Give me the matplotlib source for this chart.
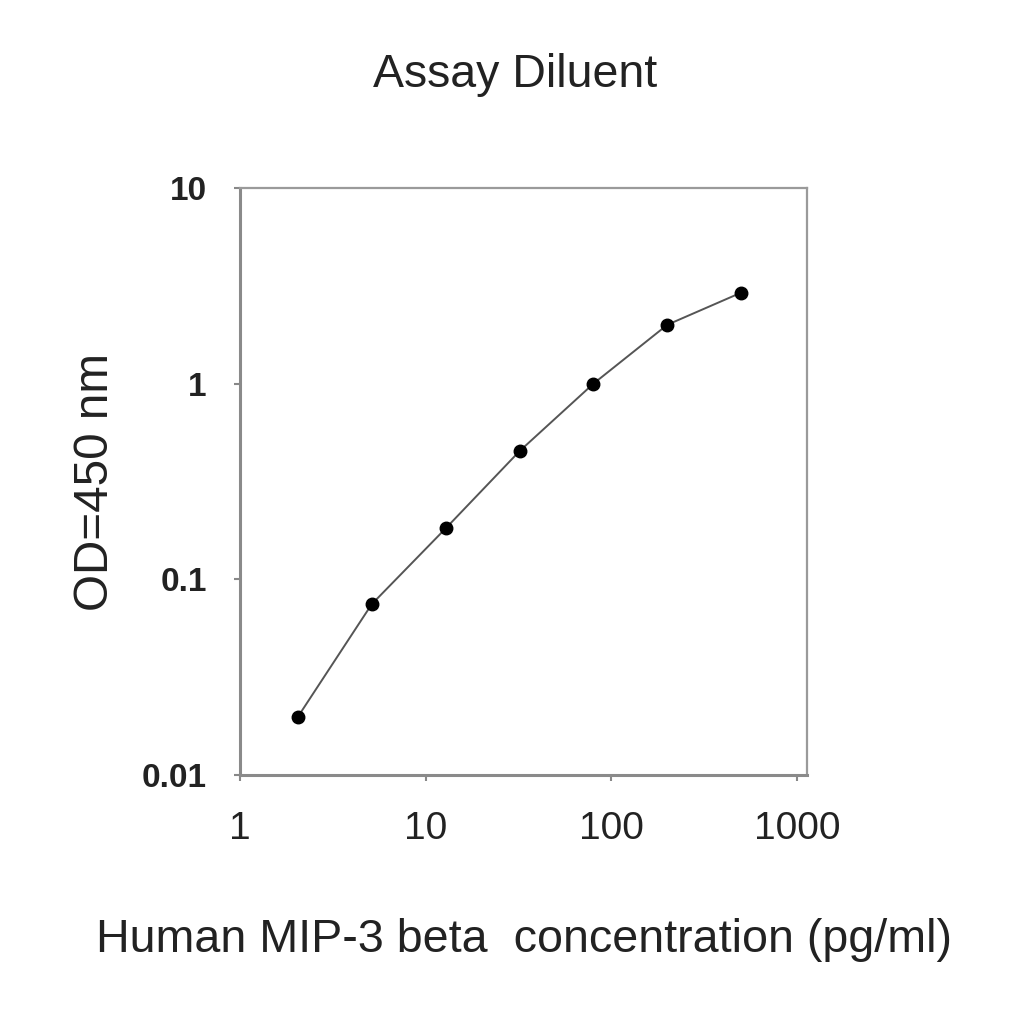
import numpy as np
import matplotlib.pyplot as plt
from matplotlib.ticker import FixedLocator, NullLocator

plt.rcParams['font.family'] = ['Liberation Sans', 'DejaVu Sans']

# standard curve, assay diluent
conc = [2.048, 5.12, 12.8, 32, 80, 200, 500]   # pg/ml
od = [0.0198, 0.0746, 0.182, 0.452, 1.0, 2.0, 2.92]

xticks = [1, 10, 100, 1000]
xtick_labels = ['1', '10', '100', '1000']
yticks = [0.01, 0.1, 1, 10]
ytick_labels = ['0.01', '0.1', '1', '10']

fig = plt.figure(figsize=(10.24, 10.24), dpi=100)
ax = fig.add_axes([240/1024, 1 - 775/1024, (807 - 240)/1024, (775 - 188)/1024])

ax.plot(conc, od, color='#555555', lw=1.4, zorder=2)
ax.plot(conc, od, 'o', color='black', ms=9, zorder=3)

ax.set_xscale('log')
ax.set_yscale('log')
ax.set_xlim(1, 1130)
ax.set_ylim(0.01, 10)

ax.xaxis.set_major_locator(FixedLocator(xticks))
ax.xaxis.set_minor_locator(NullLocator())
ax.yaxis.set_major_locator(FixedLocator(yticks))
ax.yaxis.set_minor_locator(NullLocator())
ax.set_xticklabels(xtick_labels, fontsize=28, color='#222222')
ax.set_yticklabels(ytick_labels, fontsize=24, fontweight='bold', color='#222222')
ax.tick_params(axis='x', length=4, width=1.5, color='#888888', pad=22)
ax.tick_params(axis='y', length=4, width=1.5, color='#888888', pad=20)

for side in ['left', 'bottom']:
    ax.spines[side].set_color('#8a8a8a')
    ax.spines[side].set_linewidth(2.2)
for side in ['top', 'right']:
    ax.spines[side].set_color('#9a9a9a')
    ax.spines[side].set_linewidth(1.6)

fig.text(515/1024, 1 - 75/1024, 'Assay Diluent', ha='center', va='center',
         fontsize=33.5, color='#222222')
fig.text(524/1024, 1 - 940/1024, 'Human MIP-3 beta  concentration (pg/ml)',
         ha='center', va='center', fontsize=33.6, color='#222222')
fig.text(95/1024, 1 - 482/1024, 'OD=450 nm', ha='center', va='center',
         rotation=90, fontsize=34.3, color='#222222')

fig.savefig('out.png', dpi=100)
